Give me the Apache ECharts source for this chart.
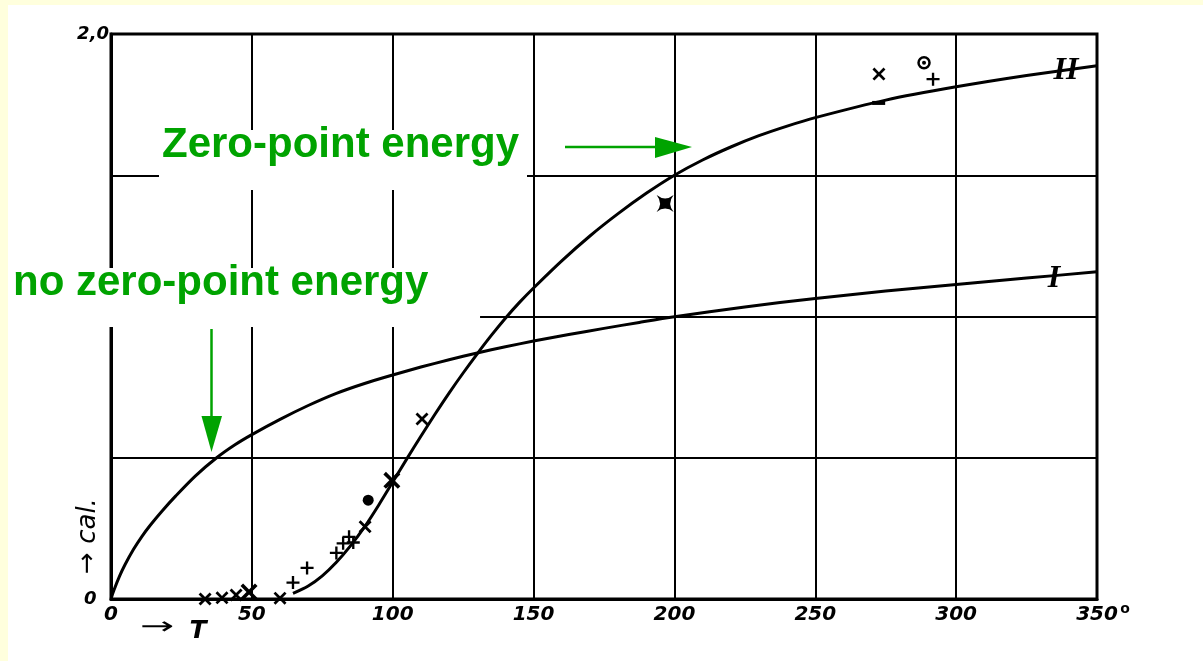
<!DOCTYPE html>
<html><head><meta charset="utf-8">
<script src="https://cdn.jsdelivr.net/npm/echarts@6/dist/echarts.min.js"></script>
<style>html,body{margin:0;padding:0;background:#fff}#c{width:1203px;height:661px}</style>
</head><body><div id="c"></div>
<script>
// ---- data ----
const xTickValues = [0, 50, 100, 150, 200, 250, 300, 350];
const yTickLabels = { 0: '0  ', 2: '2,0' };
const curveNames = ['I', 'II'];
const curveI = [[0,0],[1,0.03],[3,0.08],[5,0.122],[8,0.176],[11,0.222],[14,0.262],[18,0.31],[23,0.365],[30,0.436],[37.5,0.5],[44,0.546],[50,0.582],[60,0.636],[70,0.685],[80,0.728],[90,0.763],[100,0.793],[110,0.821],[120,0.847],[130,0.871],[140,0.893],[150,0.913],[162.5,0.936],[175,0.958],[187.5,0.979],[200,0.999],[225,1.034],[250,1.064],[275,1.09],[300,1.113],[325,1.136],[350,1.158]];
const curveII = [[64.6,0.02],[70,0.046],[75,0.082],[80,0.13],[85,0.188],[90,0.255],[95,0.332],[100,0.414],[105,0.496],[110,0.576],[115,0.654],[120,0.729],[125,0.8],[130,0.868],[135,0.933],[140,0.994],[145,1.05],[150,1.101],[160,1.197],[170,1.285],[180,1.364],[190,1.436],[200,1.5],[210,1.554],[220,1.6],[230,1.64],[240,1.674],[250,1.704],[275,1.766],[300,1.813],[325,1.853],[350,1.888]];
const crossPoints = [[33.4,0.0],[39.4,0.004],[44.4,0.014],[60,0.003],[90.2,0.256],[110.4,0.637],[272.6,1.858]];
const bigCrossPoints = [[49,0.025],[99.7,0.42]];
const plusPoints = [[64.6,0.058],[69.6,0.11],[80,0.163],[82.4,0.197],[84.5,0.22],[86,0.2],[291.8,1.84]];
const dotPoints = [[91.3,0.35]];
const ringPoints = [[288.6,1.898]];
const starPoints = [[196.7,1.40]];
const dashPoints = [[272.5,1.756]];
const partialGridValue = 1.0;
const partialGridFrom = 131;

const green = '#00a300';
const CROSS = 'path://M0,1.5 L1.5,0 L5,3.5 L8.5,0 L10,1.5 L6.5,5 L10,8.5 L8.5,10 L5,6.5 L1.5,10 L0,8.5 L3.5,5 Z';
const PLUS = 'path://M4.1,0 H5.9 V4.1 H10 V5.9 H5.9 V10 H4.1 V5.9 H0 V4.1 H4.1 Z';
const STAR = 'path://M0,0 Q5,4 10,0 Q6,5 10,10 Q5,6 0,10 Q4,5 0,0 Z';

const chart = echarts.init(document.getElementById('c'), null, { renderer: 'canvas' });
const labelFont = { fontFamily: 'DejaVu Sans', fontStyle: 'italic', fontWeight: 'bold', fontSize: 20, color: '#000' };
function markerSeries(data, symbol, size, extra) {
  return Object.assign({ type: 'scatter', data: data, symbol: symbol, symbolSize: size, z: 5,
    itemStyle: { color: '#000', opacity: 1 }, silent: true }, extra || {});
}
chart.setOption({
  backgroundColor: '#fff',
  animation: false,
  grid: { left: 111, right: 106, top: 34, bottom: 62, show: true, borderColor: '#000', borderWidth: 3, backgroundColor: 'transparent' },
  xAxis: {
    type: 'value', min: xTickValues[0], max: xTickValues[xTickValues.length - 1], interval: 50,
    axisLine: { show: true, lineStyle: { color: '#000', width: 3 } },
    axisTick: { show: false },
    splitLine: { show: true, lineStyle: { color: '#000', width: 2 } },
    axisLabel: Object.assign({ margin: 6, formatter: v => String(v) }, labelFont)
  },
  yAxis: {
    type: 'value', min: 0, max: 2, interval: 0.5,
    axisLine: { show: true, lineStyle: { color: '#000', width: 3 } },
    axisTick: { show: false },
    splitLine: { show: true, lineStyle: { color: ['#000', '#000', 'rgba(0,0,0,0)', '#000', '#000'], width: 2 } },
    axisLabel: Object.assign({}, labelFont, { margin: 2, fontSize: 18, formatter: v => (yTickLabels[v] !== undefined ? yTickLabels[v] : '') })
  },
  series: [
    { name: curveNames[0], type: 'line', data: curveI, showSymbol: false, smooth: 0.3,
      lineStyle: { color: '#000', width: 3 }, z: 3, silent: true,
      markLine: { silent: true, symbol: 'none', label: { show: false }, lineStyle: { color: '#000', width: 2, type: 'solid' },
        data: [[{ coord: [partialGridFrom, partialGridValue] }, { coord: [xTickValues[xTickValues.length - 1], partialGridValue] }]] } },
    { name: curveNames[1], type: 'line', data: curveII, showSymbol: false, smooth: 0.3,
      lineStyle: { color: '#000', width: 3 }, z: 3, silent: true },
    markerSeries(crossPoints, CROSS, 13),
    markerSeries(bigCrossPoints, CROSS, 17),
    markerSeries(plusPoints, PLUS, 13),
    markerSeries(dotPoints, 'circle', 11),
    markerSeries(ringPoints, 'circle', 11, { itemStyle: { color: '#fff', borderColor: '#000', borderWidth: 2.5, opacity: 1 } }),
    markerSeries(ringPoints, 'circle', 4),
    markerSeries(starPoints, STAR, 17),
    markerSeries(dashPoints, 'rect', [13, 4])
  ],
  graphic: [
    { type: 'rect', shape: { x: 0, y: 0, width: 1203, height: 5 }, style: { fill: '#ffffdd' }, z: 50 },
    { type: 'rect', shape: { x: 0, y: 0, width: 8, height: 661 }, style: { fill: '#ffffdd' }, z: 50 },
    // label boxes
    { type: 'rect', shape: { x: 159, y: 130, width: 368, height: 60 }, style: { fill: '#fff' }, z: 60 },
    { type: 'text', x: 162, y: 145, style: { text: 'Zero-point energy', fill: green, font: 'bold 42px "Liberation Sans", Arial, sans-serif', verticalAlign: 'middle', align: 'left' }, z: 61 },
    { type: 'rect', shape: { x: 8, y: 268, width: 428, height: 59 }, style: { fill: '#fff' }, z: 60 },
    { type: 'text', x: 13, y: 283, style: { text: 'no zero-point energy', fill: green, font: 'bold 42px "Liberation Sans", Arial, sans-serif', verticalAlign: 'middle', align: 'left' }, z: 61 },
    // arrows
    { type: 'line', shape: { x1: 565, y1: 147, x2: 660, y2: 147 }, style: { stroke: green, lineWidth: 2.5 }, z: 61 },
    { type: 'polygon', shape: { points: [[655, 137], [692, 147], [655, 158]] }, style: { fill: green }, z: 61 },
    { type: 'line', shape: { x1: 211.5, y1: 329, x2: 211.5, y2: 420 }, style: { stroke: green, lineWidth: 2.5 }, z: 61 },
    { type: 'polygon', shape: { points: [[201.5, 416], [211.5, 452], [222, 416]] }, style: { fill: green }, z: 61 },
    // axis names & curve labels
    { type: 'text', x: 88, y: 536, rotation: Math.PI / 2, style: { text: '→ cal.', fill: '#000', font: 'italic 26px "DejaVu Sans", sans-serif', align: 'center', verticalAlign: 'middle' }, z: 61 },
    { type: 'text', x: 157, y: 628, scaleX: 1.7, style: { text: '→', fill: '#000', font: '24px "DejaVu Sans", sans-serif', align: 'center', verticalAlign: 'middle' }, z: 61 },
    { type: 'text', x: 198, y: 631, style: { text: 'T', fill: '#000', font: 'italic bold 25px "DejaVu Sans", sans-serif', align: 'center', verticalAlign: 'middle' }, z: 61 },
    { type: 'text', x: 1125, y: 609, style: { text: 'o', fill: '#000', font: 'bold 14px "DejaVu Sans", sans-serif', align: 'center', verticalAlign: 'middle' }, z: 61 },
    { type: 'text', x: 1066, y: 71, style: { text: curveNames[1], fill: '#000', font: 'italic bold 32px "Liberation Serif", serif', align: 'center', verticalAlign: 'middle' }, z: 61 },
    { type: 'text', x: 1054, y: 279, style: { text: curveNames[0], fill: '#000', font: 'italic bold 32px "Liberation Serif", serif', align: 'center', verticalAlign: 'middle' }, z: 61 }
  ]
});
</script>
</body></html>
